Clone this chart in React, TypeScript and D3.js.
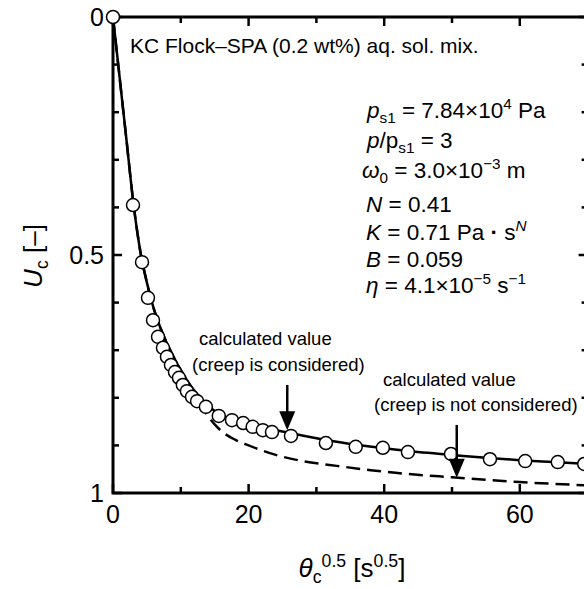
import { useEffect, useRef } from "react";
import * as d3 from "d3";

// observed consolidation ratio (circles)
const obsTheta = [0, 2.95, 4.28, 5.16, 5.9, 6.64, 7.37, 7.96, 8.55, 9.14, 9.73, 10.3, 10.9, 11.65, 12.4, 13.7, 15.6, 17.55, 19.2, 20.6, 22.1, 23.45, 26.25, 31.4, 35.8, 39.8, 43.5, 49.85, 55.6, 60.8, 65.6, 69.5];
const obsU = [0, 0.395, 0.515, 0.59, 0.637, 0.672, 0.695, 0.714, 0.731, 0.746, 0.758, 0.773, 0.786, 0.798, 0.807, 0.819, 0.838, 0.847, 0.853, 0.861, 0.868, 0.872, 0.88, 0.895, 0.903, 0.905, 0.914, 0.918, 0.929, 0.933, 0.935, 0.939];

// calculated, creep considered (solid)
const creepTheta = [0, 1, 2, 3, 4, 5, 6, 7, 8, 9, 10, 11, 12, 13, 14, 15, 16, 18, 20, 25, 30, 35, 40, 45, 50, 55, 60, 65, 70];
const creepU = [0, 0.13, 0.26, 0.39, 0.49, 0.558, 0.612, 0.653, 0.687, 0.716, 0.742, 0.765, 0.785, 0.801, 0.816, 0.828, 0.837, 0.848, 0.856, 0.871, 0.885, 0.897, 0.906, 0.914, 0.92, 0.926, 0.931, 0.935, 0.939];

// calculated, creep not considered (dashed)
const noCreepTheta = [0, 1, 2, 3, 4, 5, 6, 7, 8, 9, 10, 11, 12, 13, 14, 15, 16, 18, 20, 24, 28, 33, 38, 42, 50, 60, 70];
const noCreepU = [0, 0.13, 0.26, 0.39, 0.49, 0.558, 0.612, 0.653, 0.687, 0.716, 0.742, 0.765, 0.792, 0.817, 0.838, 0.856, 0.87, 0.888, 0.9, 0.92, 0.933, 0.943, 0.952, 0.958, 0.967, 0.977, 0.984];

// annotation arrows
const arrowTheta = [25.7, 50.7];
const arrowTopU = [0.773, 0.857];
const arrowTipU = [0.868, 0.968];

const xMajor = [0, 20, 40, 60];
const xMinor = [10, 30, 50, 70];
const yMajor = [0, 0.5, 1];
const yMinor = [0.1, 0.2, 0.3, 0.4, 0.6, 0.7, 0.8, 0.9];

type Seg = { t: string; it?: boolean; sub?: boolean; sup?: boolean; bold?: boolean };

function richText(g: any, x: number, y: number, segs: Seg[], size: number) {
  const text = g
    .append("text")
    .attr("x", x)
    .attr("y", y)
    .style("font-size", size + "px");
  let cur = 0;
  segs.forEach((s) => {
    const target = s.sub ? size * 0.22 : s.sup ? -size * 0.38 : 0;
    text
      .append("tspan")
      .attr("dy", target - cur)
      .style("font-size", (s.sub || s.sup ? size * 0.68 : size) + "px")
      .style("font-style", s.it ? "italic" : "normal")
      .style("font-weight", s.bold ? "bold" : "normal")
      .text(s.t);
    cur = target;
  });
  return text;
}

export default function App() {
  const ref = useRef<SVGSVGElement>(null);

  useEffect(() => {
    const width = 584,
      height = 589;
    const svg = d3.select(ref.current);
    svg.selectAll("*").remove();
    svg.attr("width", width).attr("height", height);

    const g = svg
      .append("g")
      .style("font-family", "'Liberation Sans', Arial, sans-serif")
      .style("fill", "#000");

    const x = d3.scaleLinear().domain([0, 70]).range([113, 587.6]);
    const y = d3.scaleLinear().domain([0, 1]).range([17, 493]);

    // frame
    g.append("rect")
      .attr("x", x(0))
      .attr("y", y(0))
      .attr("width", x(70) - x(0))
      .attr("height", y(1) - y(0))
      .attr("fill", "none")
      .attr("stroke", "#000")
      .attr("stroke-width", 3);

    // inward ticks on all four sides
    const tick = (x1: number, y1: number, x2: number, y2: number) =>
      g.append("line")
        .attr("x1", x1).attr("y1", y1).attr("x2", x2).attr("y2", y2)
        .attr("stroke", "#000").attr("stroke-width", 2.5);
    xMajor.concat(xMinor).forEach((v) => {
      const len = xMajor.includes(v) ? 9 : 6;
      tick(x(v), y(1), x(v), y(1) - len);
      tick(x(v), y(0), x(v), y(0) + len);
    });
    yMajor.concat(yMinor).forEach((v) => {
      const len = yMajor.includes(v) ? 9 : 6;
      tick(x(0), y(v), x(0) + len, y(v));
      tick(x(70), y(v), x(70) - len, y(v));
    });

    // tick labels
    g.selectAll(".xl")
      .data(xMajor)
      .enter()
      .append("text")
      .attr("x", (d) => x(d))
      .attr("y", 523)
      .attr("text-anchor", "middle")
      .style("font-size", "25px")
      .text((d) => d);
    g.selectAll(".yl")
      .data(yMajor)
      .enter()
      .append("text")
      .attr("x", 104)
      .attr("y", (d) => y(d))
      .attr("dy", "0.36em")
      .attr("text-anchor", "end")
      .style("font-size", "25px")
      .text((d) => (d === 0.5 ? "0.5" : d));

    // axis titles
    const yt = richText(g, 0, 0, [{ t: "U", it: true }, { t: "c", sub: true }, { t: " [–]" }], 26);
    yt.attr("transform", "translate(42,256) rotate(-90)").attr("text-anchor", "middle").attr("x", 0).attr("y", 0);
    const xt = richText(g, 352, 577, [{ t: "θ", it: true }, { t: "c", sub: true }, { t: "0.5", sup: true }, { t: " [s" }, { t: "0.5", sup: true }, { t: "]" }], 26);
    xt.attr("text-anchor", "middle");

    // curves
    const line = d3
      .line<[number, number]>()
      .x((d) => x(d[0]))
      .y((d) => y(d[1]))
      .curve(d3.curveMonotoneX);

    g.append("path")
      .datum(noCreepTheta.map((t, i) => [t, noCreepU[i]] as [number, number]))
      .attr("fill", "none")
      .attr("stroke", "#000")
      .attr("stroke-width", 2.5)
      .attr("stroke-dasharray", "14,7")
      .attr("d", line);

    g.append("path")
      .datum(creepTheta.map((t, i) => [t, creepU[i]] as [number, number]))
      .attr("fill", "none")
      .attr("stroke", "#000")
      .attr("stroke-width", 2.5)
      .attr("d", line);

    // observed points
    g.selectAll(".pt")
      .data(obsTheta)
      .enter()
      .append("circle")
      .attr("cx", (d) => x(d))
      .attr("cy", (d, i) => y(obsU[i]))
      .attr("r", 6.5)
      .attr("fill", "#fff")
      .attr("stroke", "#000")
      .attr("stroke-width", 1.5);

    // arrows
    arrowTheta.forEach((t, i) => {
      const ax = x(t);
      const tipY = y(arrowTipU[i]);
      g.append("line")
        .attr("x1", ax).attr("x2", ax)
        .attr("y1", y(arrowTopU[i])).attr("y2", tipY - 14)
        .attr("stroke", "#000").attr("stroke-width", 2.5);
      g.append("path")
        .attr("d", `M${ax - 8},${tipY - 19}L${ax + 8},${tipY - 19}L${ax},${tipY}Z`)
        .attr("fill", "#000");
    });

    // annotation labels
    const label = (tx: number, ty: number, s: string) =>
      g.append("text").attr("x", tx).attr("y", ty).style("font-size", "18.5px").text(s);
    label(199, 345, "calculated value");
    label(192, 371, "(creep is considered)");
    label(383, 386, "calculated value");
    label(374, 411, "(creep is not considered)");

    // title and conditions
    g.append("text").attr("x", 130).attr("y", 53).style("font-size", "21px").text("KC Flock–SPA (0.2 wt%) aq. sol. mix.");

    const ps = 22.5;
    richText(g, 367, 118, [{ t: "p", it: true }, { t: "s1", sub: true }, { t: " = 7.84×10" }, { t: "4", sup: true }, { t: " Pa" }], ps);
    richText(g, 367, 148, [{ t: "p", it: true }, { t: "/p" }, { t: "s1", sub: true }, { t: " = 3" }], ps);
    richText(g, 362, 178, [{ t: "ω", it: true }, { t: "0", sub: true }, { t: " = 3.0×10" }, { t: "−3", sup: true }, { t: " m" }], ps);
    richText(g, 366, 212, [{ t: "N", it: true }, { t: " = 0.41" }], ps);
    richText(g, 366, 240, [{ t: "K", it: true }, { t: " = 0.71 Pa " }, { t: "·", bold: true }, { t: " s" }, { t: "N", sup: true, it: true }], ps);
    richText(g, 366, 267, [{ t: "B", it: true }, { t: " = 0.059" }], ps);
    richText(g, 366, 293, [{ t: "η", it: true }, { t: " = 4.1×10" }, { t: "−5", sup: true }, { t: " s" }, { t: "−1", sup: true }], ps);
  }, []);

  return <svg ref={ref} style={{ position: "absolute", left: 0, top: 0 }} />;
}
